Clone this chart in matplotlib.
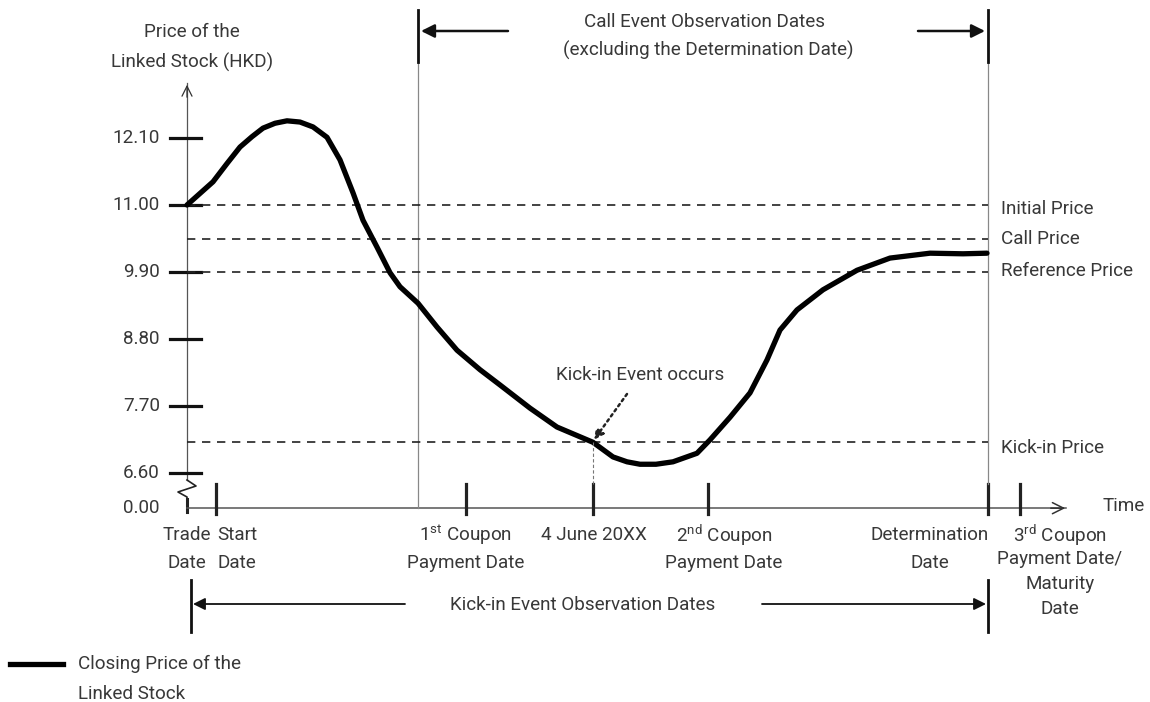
import numpy as np
import matplotlib.pyplot as plt

plt.rcParams['font.family'] = ['Roboto', 'DejaVu Sans']
plt.rcParams['mathtext.fontset'] = 'custom'
plt.rcParams['mathtext.rm'] = 'Roboto'

#---data---
# timeline position (arbitrary units along the time axis) and closing price (HKD)
t_curve = [187, 200, 213, 227, 240, 252, 263, 275, 287, 300, 313, 327, 340, 353, 363,
           377, 390, 400, 418, 437, 457, 480, 500, 530, 557, 593, 613, 627, 640, 656,
           673, 697, 710, 730, 750, 767, 780, 797, 823, 857, 890, 930, 963, 987]
close_price = [11.00, 11.19, 11.38, 11.68, 11.95, 12.12, 12.26, 12.34, 12.38, 12.36,
               12.28, 12.11, 11.74, 11.20, 10.75, 10.31, 9.89, 9.66, 9.39, 9.00, 8.62,
               8.30, 8.05, 7.67, 7.36, 7.11, 6.87, 6.79, 6.75, 6.75, 6.79, 6.93, 7.15,
               7.52, 7.92, 8.46, 8.95, 9.28, 9.61, 9.93, 10.13, 10.21, 10.20, 10.21]

initial_price = 11.00
call_price = 10.44
reference_price = 9.90
kickin_price = 7.12
level_names = ["Initial Price", "Call Price", "Reference Price", "Kick-in Price"]
level_values = [initial_price, call_price, reference_price, kickin_price]

price_ticks = [12.10, 11.00, 9.90, 8.80, 7.70, 6.60]
price_floor = 6.03  # broken axis, shown as 0.00

t_trade = 187
t_start = 216
t_call_first = 418
t_coupon1 = 466
t_kickin = 593
t_coupon2 = 708
t_determination = 988
t_coupon3 = 1020
t_end = 1068
date_ticks = [t_start, t_coupon1, t_kickin, t_coupon2, t_determination, t_coupon3]


# pixel row -> price units (layout helper for the text around the plot)
def row(ypx):
    return 11.0 - (ypx - 205) / 61.0


txt = dict(color="#383838", fontsize=13.6)

fig = plt.figure(figsize=(11.5, 7.02), dpi=100)
ax = fig.add_axes([0, 0, 1, 1])
ax.set_xlim(0, 1150)
ax.set_ylim(row(702), row(0))
ax.axis("off")

# price axis with break
ax.plot([t_trade, t_trade], [row(480), row(83)], color="#555555", lw=0.9)
ax.annotate("", xy=(t_trade, row(82)), xytext=(t_trade, row(100)),
            arrowprops=dict(arrowstyle="->", color="#333333", lw=0.9, mutation_scale=18))
zz_x = [t_trade, t_trade + 9, t_trade - 9, t_trade, t_trade]
zz_y = [row(480), row(486), row(492), row(497), row(501)]
ax.plot(zz_x, zz_y, color="#222222", lw=1.2)
ax.plot([t_trade, t_trade], [row(499), price_floor - 0.07], color="#222222", lw=2.2)
for p in price_ticks:
    ax.plot([t_trade - 17, t_trade + 14], [p, p], color="#111111", lw=2.3)
    ax.text(160, p, f"{p:.2f}", ha="right", va="center", **txt)
ax.text(160, price_floor, "0.00", ha="right", va="center", **txt)

# time axis
ax.plot([t_trade, t_end - 2], [price_floor, price_floor], color="#555555", lw=1.1)
ax.annotate("", xy=(t_end, price_floor), xytext=(t_end - 20, price_floor),
            arrowprops=dict(arrowstyle="->", color="#333333", lw=1.1, mutation_scale=20))
for d in date_ticks:
    ax.plot([d, d], [row(484), row(514)], color="#222222", lw=2.3)
ax.text(1103, price_floor + 0.03, "Time", ha="left", va="center", **txt)

# observation windows
ax.plot([t_call_first, t_call_first], [price_floor, row(60)], color="#888888", lw=0.9)
ax.plot([t_determination, t_determination], [row(484), row(60)], color="#888888", lw=0.9)

# price levels
for name, v in zip(level_names, level_values):
    ax.plot([t_trade, t_determination], [v, v], color="#222222", lw=1.2, dashes=(5, 4))
ax.text(1001, row(209), level_names[0], ha="left", va="center", **txt)
ax.text(1001, row(239), level_names[1], ha="left", va="center", **txt)
ax.text(1001, row(271), level_names[2], ha="left", va="center", **txt)
ax.text(1001, row(448), level_names[3], ha="left", va="center", **txt)

# closing price
ax.plot(t_curve, close_price, color="black", lw=3.8, solid_capstyle="round",
        solid_joinstyle="round")

# kick-in event
ax.plot([t_kickin, t_kickin], [kickin_price, row(484)], color="#777777", lw=0.8,
        dashes=(3, 2))
ax.annotate("", xy=(t_kickin + 1, kickin_price + 0.03), xytext=(627, row(394)),
            arrowprops=dict(arrowstyle="-|>", color="#222222", lw=1.8, ls=(0, (1, 1.5)),
                            mutation_scale=14, shrinkA=0, shrinkB=0))
ax.text(640, row(375), "Kick-in Event occurs", ha="center", va="center", **txt)

# call event observation bracket
top = row(31)
ax.plot([t_call_first, t_call_first], [row(10), row(62)], color="#111111", lw=2.0)
ax.plot([t_determination, t_determination], [row(10), row(62)], color="#111111", lw=2.0)
ax.annotate("", xy=(t_call_first + 3, top), xytext=(508, top),
            arrowprops=dict(arrowstyle="-|>", color="#111111", lw=1.8, mutation_scale=20,
                            shrinkA=0, shrinkB=0))
ax.annotate("", xy=(t_determination - 3, top), xytext=(918, top),
            arrowprops=dict(arrowstyle="-|>", color="#111111", lw=1.8, mutation_scale=20,
                            shrinkA=0, shrinkB=0))
ax.text(705, row(22), "Call Event Observation Dates", ha="center", va="center", **txt)
ax.text(708, row(50), "(excluding the Determination Date)", ha="center", va="center", **txt)

# kick-in event observation bracket
bot = row(604)
ax.plot([t_trade + 4, t_trade + 4], [row(580), row(632)], color="#111111", lw=2.0)
ax.plot([t_determination, t_determination], [row(580), row(632)], color="#111111", lw=2.0)
ax.annotate("", xy=(t_trade + 6, bot), xytext=(405, bot),
            arrowprops=dict(arrowstyle="-|>", color="#111111", lw=1.3, mutation_scale=18,
                            shrinkA=0, shrinkB=0))
ax.annotate("", xy=(t_determination - 2, bot), xytext=(762, bot),
            arrowprops=dict(arrowstyle="-|>", color="#111111", lw=1.3, mutation_scale=18,
                            shrinkA=0, shrinkB=0))
ax.text(583, row(605), "Kick-in Event Observation Dates", ha="center", va="center", **txt)

# date labels
date_labels = [
    (187, ["Trade", "Date"], 28),
    (237, ["Start", "Date"], 28),
    (466, ["1$^{\\mathrm{st}}$ Coupon", "Payment Date"], 28),
    (594, ["4 June 20XX"], 28),
    (724, ["2$^{\\mathrm{nd}}$ Coupon", "Payment Date"], 28),
    (930, ["Determination", "Date"], 28),
    (1060, ["3$^{\\mathrm{rd}}$ Coupon", "Payment Date/", "Maturity", "Date"], 24.5),
]
for x, lines, gap in date_labels:
    for i, s in enumerate(lines):
        ax.text(x, row(535 + i * gap), s, ha="center", va="center", **txt)

# axis title
ax.text(192, row(32), "Price of the", ha="center", va="center", **txt)
ax.text(192, row(62), "Linked Stock (HKD)", ha="center", va="center", **txt)

# legend
ax.plot([10, 63], [row(664), row(664)], color="black", lw=3.8)
ax.text(78, row(664), "Closing Price of the", ha="left", va="center", **txt)
ax.text(78, row(694), "Linked Stock", ha="left", va="center", **txt)

plt.savefig("out.png", dpi=100)
